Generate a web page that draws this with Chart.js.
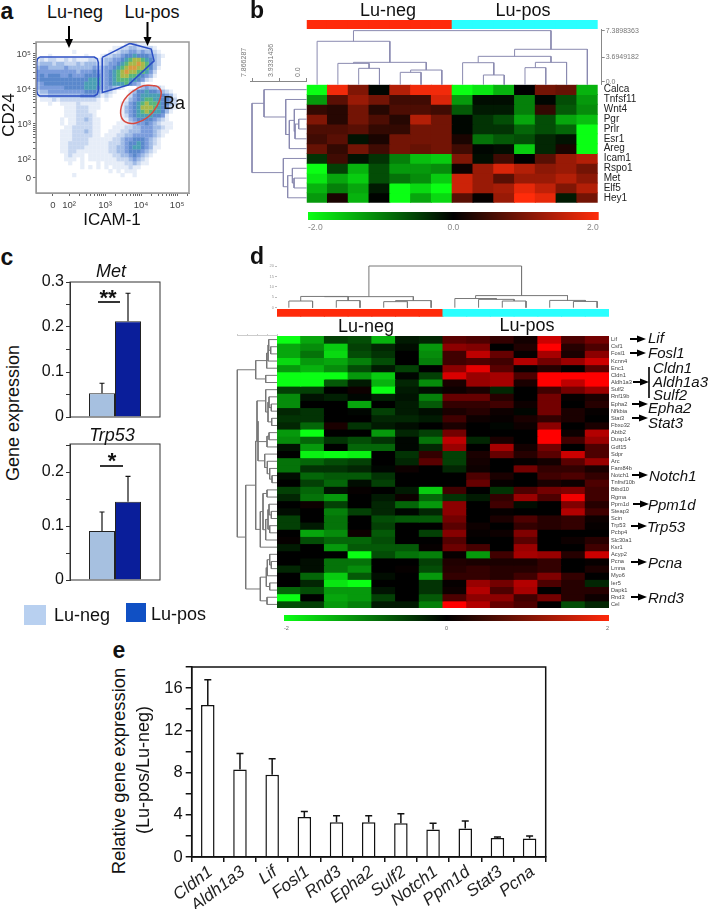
<!DOCTYPE html>
<html>
<head>
<meta charset="utf-8">
<title>Lu-neg / Lu-pos figure</title>
<script src="https://cdn.jsdelivr.net/npm/chart.js@4"></script>
<style>
    html, body { margin: 0; padding: 0; background: #fff; }
    #page { position: relative; width: 709px; height: 909px; overflow: hidden; font-family: "Liberation Sans", sans-serif; color: #111; }
    #page canvas { position: absolute; }
    #page svg { position: absolute; left: 0; top: 0; }
    .txt { position: absolute; white-space: nowrap; line-height: 1; }
    .swatch { position: absolute; }
</style>
</head>
<body>
<div id="page"></div>
<script>
// panel a: estimated density per 4px cell, 0 empty .. 9 densest. Left and right part of each row.
const flowGridLeft = [
    '0000000000000000', '0000000000000000', '0000000001000000', '0001000000001000',
    '1212211212111221', '2333233222323332', '3443333433333343', '4444444444344454',
    '4545554454445555', '4555555555555666', '3455555555556666', '3444444555556665',
    '2334444444445554', '1223333333344443', '0111212222222221', '0001001111211111',
    '0000000111222111', '0000000111222110', '0000000111222210', '0000001011223211',
    '0000001011222211', '0000000112222211', '0000001112223211', '0000001112222211',
    '0000001112222111', '0000001122222111', '0000001122221111', '0000001122111111',
    '0000000121110111', '0000000111010111', '0000000010010001', '0000000000010101',
    '0000000000000000', '0000000001000000', '0000000000000000', '0000000000000000',
    '0000000000000000', '0000000000000000'
];
const flowGridRight = [
    '0000001121110000000000', '0001122332222100000000', '0011233443433210000000', '1223345565554321000000',
    '2334456788765320000000', '2344567889875320000000', '3445678998875310000000', '3456789887764200000000',
    '3456788776543100000000', '3456777665421000000000', '3456667543100000000000', '3443210002343321000000',
    '2321000135565543210000', '1210000245666665431000', '0100001345677665542000', '0000012456787765532000',
    '0000013456888765421000', '0000013456787665310000', '0000012456666554100000', '0000011345555432100000',
    '0000111234454321110000', '0001112233444332110000', '0011122333444321100000', '0111223344444321000000',
    '1112234455543210000000', '1122234556543210000000', '1122334566543110000000', '1122334555432100000000',
    '1112233454321000000000', '1111222343210000000000', '0111112232110000000000', '0101111211000000000000',
    '0010101110000000000000', '0000010010000000000000', '0000000000000000000000', '0000000000000000000000',
    '0000000000000000000000', '0000000000000000000000'
];
const flowColors = ['', '#e6edf8', '#c6d6f0', '#a0bbe6', '#7a9cdc', '#5a88cc', '#4a9fb4', '#58b67c', '#a8b84a', '#d89a40'];
const flowXRange = [1.08, 5.33];
const flowYRange = [1.03, 5.34];
const flowXMajor = [1.55, 2, 3, 4, 5];
const flowXLabels = ['0', '10²', '10³', '10⁴', '10⁵'];
const flowYMajor = [1.46, 2, 3, 4, 5];
const flowYLabels = ['0', '10²', '10³', '10⁴', '10⁵'];
const logMinors = [0.3, 0.48, 0.6, 0.7, 0.78, 0.85, 0.9, 0.95];
const gateNeg = [[1.18,4.91],[2.70,4.91],[2.78,4.86],[2.81,4.76],[2.81,3.95],[2.78,3.85],[2.70,3.80],[1.18,3.80],[1.12,3.85],[1.10,3.95],[1.10,4.76],[1.12,4.86],[1.18,4.91]];
const gatePos = [[2.92,4.9],[3.69,5.3],[4.28,5.14],[4.36,4.8],[3.64,4.11],[2.92,3.9],[2.92,4.9]];
const gateBa = [[4.31,4.10],[4.47,4.06],[4.56,3.89],[4.44,3.51],[4.19,3.2],[3.86,3.03],[3.56,3.06],[3.43,3.31],[3.53,3.69],[3.78,3.94],[4.06,4.09],[4.31,4.10]];

// panel b
const geneB = ['Calca', 'Tnfsf11', 'Wnt4', 'Pgr', 'Prlr', 'Esr1', 'Areg', 'Icam1', 'Rspo1', 'Met', 'Elf5', 'Hey1'];
const heatB = [
    [-2, 1.9, 1, -0.05, 1.4, 1.9, 1.9, -2, -1.8, -1.4, 0, 0.9, 0.8, -1.4],
    [-1.2, 0.7, 1.2, 0.9, 0.5, 0.5, 1.7, -1.2, -0.1, -0.1, -1, -0.05, -0.6, -1.2],
    [0.4, 0.3, 0.9, 0.3, 0.6, 0.6, 0.5, -0.7, -0.2, -0.2, -1, 0.4, -0.7, -1.1],
    [1, 0.3, 0.9, 0.6, 0.3, 1.4, 0.9, -0.05, -0.4, -0.6, -1.3, -0.6, -1.3, -1.5],
    [0.6, 0.6, 0.7, 0.4, 0.4, 0.9, 0.9, -0.05, -0.4, -0.4, -0.8, -0.6, -0.8, -2],
    [0.5, 0.7, -0.15, 0.2, 0.9, 0.9, 0.9, 0.2, -0.9, -0.7, -0.6, -0.3, -0.15, -2],
    [0.8, 0.4, 0.9, 0.5, 0.9, 0.8, 0.9, 0.5, -0.05, -0.1, -1.6, -0.3, 0.2, -2],
    [-0.4, 0.5, -0.15, -0.4, -1, -1.5, -1.6, 1, -0.1, 0.5, 0, 0.7, 1.2, 1.4],
    [-2, -0.5, -1.4, -0.6, -1.2, -1.2, -1.1, 0.1, 1.2, 1.7, 1.4, 1.1, 1.2, 0.9],
    [-1.8, -1.3, -1.6, -0.6, -0.9, -1.1, -1.6, 1.6, 1.2, 0.7, 1.2, 1.2, 1.4, 1.1],
    [-1.4, -1, -1.3, -0.2, -2, -1.7, -2, 1.6, 1.2, 1.3, 1.8, 1.5, 1, 1.4],
    [-1.2, 0.2, -1.4, -0.02, -2, -1.3, -1.7, 0.7, 0.05, 1.2, 2, 1.8, -0.2, 0.9]
];
// trees are [height, left, right], a bare number is a leaf position
const treeBTop = [7.3, [5.86, 0, [3.02, [2.88, 1, [2.21, 2, 3]], [1.98, [1.67, 4, 5], 6]]], [4.78, [3.83, [2.97, 7, [1.31, 8, 9]], [3.02, [2.3, 10, 11], 12]], 13]];
const treeBLeft = [7.87, [6.14, 0, [3.02, 1, [2.5, [1.78, 2, [1.68, [1.15, 3, 4], 5]], 6]]], [3.36, 7, [2.74, [2.06, 8, [1.82, 9, 10]], 11]]];
const stripGroups = [[0, 0, 0, 0, 0, 0, 0, 1, 1, 1, 1, 1, 1, 1]];
const scaleBTicks = ['7.3898363', '3.6949182', '0.0'];
const scaleBLeftTicks = ['7.866287', '3.9331436', '0.0'];

// panel c
const groups = ['Lu-neg', 'Lu-pos'];
const metMeans = [0.053, 0.213];
const metHighs = [0.075, 0.275];
const metTicks = [0, 0.05, 0.1, 0.15, 0.2, 0.25, 0.3];
const trpMeans = [0.091, 0.145];
const trpHighs = [0.126, 0.192];
const trpTicks = [0, 0.05, 0.1, 0.15, 0.2, 0.25];

// panel d
const geneD = ['Lif', 'Csf1', 'Fosl1', 'Kcnn4', 'Enc1', 'Cldn1', 'Aldh1a3', 'Sulf2', 'Rnf19b', 'Epha2', 'Nfkbia', 'Stat3', 'Fbxo32', 'Abtb2', 'Dusp14', 'Gdf15', 'Sdpr', 'Arc', 'Fam84b', 'Notch1', 'Tnfrsf10b', 'Btbd10', 'Rgma', 'Ppm1d', 'Steap3', 'Scin', 'Trp53', 'Pcbp4', 'Slc30a1', 'Ksr1', 'Acyp2', 'Pcna', 'Lmna', 'Myo6', 'Ier5', 'Dapk1', 'Rnd3', 'Cel'];
const heatD = [
    [-2, -1.3, -0.5, -0.6, -1.4, -0.2, -0.3, 0.7, 0.6, 0.4, 0.15, 1.6, 0.6, 0.9],
    [-1.3, -1.1, -1.6, -0.5, -0.3, -0.1, -1.2, 1.1, 1, 0, 0.25, 2, 0.3, 0.6],
    [-1.3, -0.9, -1.7, -0.6, -0.4, 0, -1.1, 0.5, 1.5, 0.8, 0.05, 1.3, 0.2, 1.1],
    [-1.7, -1.2, -1.3, -1, -0.6, 0, -1, 0.5, 0.6, 0.5, 1.4, 0.9, 1.2, 1.6],
    [-1.2, -1.4, -1.1, -0.6, -0.2, -0.5, 0, 1.1, 1.8, 0.7, 0.05, 0.3, 0, 0.7],
    [-2, -2, -2, -1.2, -1.6, -0.05, -0.5, 1.7, 1.2, 1.3, 0.6, 2, 2, 2],
    [-2, -2, -0.7, -0.2, -1.4, -0.3, -1.1, 0.2, 1.2, 1.3, 0.2, 2, 1.5, 2],
    [-0.5, -0.5, 0, 0.1, -2, -0.2, -0.1, 0.1, 0.2, -0.3, 0, 0.5, 0.9, 1.2],
    [-1.1, -0.15, -0.25, -0.05, -0.25, -0.15, -1, 0.8, 0.8, 0.3, 0, 0.9, 0.05, 0.2],
    [-1.1, 0, 0, -1.3, 0, -0.2, -0.7, 0.4, 0.4, 0.5, 0.1, 0.9, 0, 0.3],
    [-0.3, -0.4, 0, -0.05, -0.5, -0.2, -0.1, 0.2, 0.3, 0.1, -0.05, 0.9, 0.2, 0.05],
    [-0.4, -0.4, 0, 0, -0.3, -0.3, -0.2, 0.5, 0.1, 0.05, 0.2, 0.4, 0.2, 0],
    [-0.3, -0.8, 0.2, -0.4, -0.2, -0.1, 0, 0.2, 0, -0.05, 0.1, 1.1, 0, 0.2],
    [-1.2, -2, 0, 0, -1.2, -0.3, -0.5, 0.9, 0, 0, 0, 2, 0.1, 1.4],
    [-1.1, -0.8, -0.4, -0.6, -0.4, -0.05, -0.9, 1.5, -0.3, 0.2, 0, 2, 0.5, 1.2],
    [-0.15, -1.2, 0, -0.8, -0.8, -0.05, -0.3, 1.2, 0, 1.3, 0.15, 0.9, 0, 0.6],
    [0, -1.9, -2, -1.9, 0, -0.4, 0.4, -0.5, 0.2, 0.8, 0.3, 0.7, 1.6, 0.6],
    [-0.9, -0.8, -0.6, -0.5, 0, -0.3, 0.7, -0.5, 0.15, 0, 0.05, 0.15, 0.7, 1.2],
    [-0.9, -0.4, -0.4, -0.3, -0.05, 0.1, 0, -0.3, 0.1, 0, 0.9, 0.4, 0.4, 0.2],
    [-0.1, -0.8, -0.7, -0.7, -0.4, 0, 0, 0, 0.6, 0.2, 0, 0.5, 0.6, 0.4],
    [0, -0.5, -0.8, -0.1, -0.5, 0, 0, 0, 0.8, 0.05, 0, 0.2, 0.1, 0.6],
    [-0.5, -0.8, -0.15, 0.05, 0, -0.2, -1.6, 0.5, 0, -0.4, 0.6, 0.9, 1, 0.5],
    [-0.3, -0.9, -1.2, 0, -0.2, 0.1, -0.8, -0.4, -0.2, 0.4, 1.2, 0.6, 1.9, 0.5],
    [0, 0.1, -0.5, 0, -0.3, -0.8, -1.2, 1.1, 0, 0.5, -0.1, 0, 1, 0.3],
    [-0.1, 0, -1, -0.5, -0.3, -0.05, -0.3, 1.1, 0, 0.05, 0, 0, 1.4, 0.5],
    [-0.5, 0, -0.9, 0, -0.6, -0.7, -0.7, 0.9, 0, 0.2, 0.6, 0.3, 0.4, 0.1],
    [-0.5, -0.2, -0.9, 0, -0.5, 0, 0, 0.7, 0.1, 0, 0.4, 0.3, 0.4, 0.05],
    [0, -1.3, -1.1, 0.1, -0.7, 0, -0.5, 1.05, 0.05, 0.1, 1, 0, 0, 0],
    [0.05, -0.6, -0.8, -0.8, -0.6, 0, 0, 0.65, 0, 0, 0.7, 0, 0.1, 0.3],
    [-0.2, 0, -1.2, -0.7, -0.7, -0.7, 0.05, 0.85, 0.55, 0, 1.2, 0, 0, 0.5],
    [0, 0, 0, -2, -0.6, -0.9, -1, 0.05, -1.2, 0.5, 1.3, 1.2, 0.3, 1.6],
    [0, -0.1, -0.9, -0.9, 0, 0, -0.5, 0.25, 0.2, 0.2, 0.2, 0.4, 0, 0.05],
    [-0.3, -0.1, -0.9, -1.1, 0, 0.05, -0.6, 0.3, 0.4, 0.3, 0.3, 0.4, 0, 0.2],
    [0, -0.8, -1.6, -0.7, -0.1, 0, -1.2, 0.4, 0.4, 0.3, 0.5, 1, 0.4, 0],
    [0, -0.3, -1.8, -2, 0, 0, -0.4, 0.05, 1.2, 0.9, 1.4, 0.6, 0.3, -0.3],
    [-0.8, -0.6, -1.2, -1.2, -0.15, 0, -0.4, 0.1, 1.4, 0.6, 1.3, 0, 0.3, 0.3],
    [-2, 0, -1.3, -1.2, -0.5, 0, -0.7, 0.6, 1.1, 1.1, 0.5, 0.9, 0.3, 0.1],
    [-0.6, -0.5, -1.2, -1, -0.2, -0.2, -1, 2, 1.4, 0.8, 0.6, 0, -0.6, -0.3]
];
const treeDTop = [20, [5.3, [5.4, [3.2, 0, 1], [3.4, 2, 3]], [3.4, [2.9, 4, 5], 6]], [5.8, [4.4, 7, [4, 8, [3.2, 9, 10]]], [3.5, 11, [3, 12, 13]]]];
const treeDLeft = [39.7,
    [21.3, [10.3, [9, [8.3, 0, [6.3, 1, 2]], 3], 4], [11.3, 5, 6]],
    [31.3,
        [21.3,
            [19,
                [20, [11.3, 7, [9, [8, 8, [5.7, 9, 10]], [5.3, 11, 12]]], [10, [8, 13, 14], 15]],
                [12.3, 16, [9.7, 17, [7.3, 18, [5, 19, 20]]]]],
            [16.7, [14, [10, 21, 22], [11.3, [9, [8, 23, [5.7, 24, 25]], [7.3, 26, 27]], 28]], 29]],
        [16.7, [10.7, [9.7, [7.3, 30, [5.7, 31, 32]], 33], [7.3, 34, 35]], [10, 36, 37]]]
];

// panel e
const genesE = ['Cldn1', 'Aldh1a3', 'Lif', 'Fosl1', 'Rnd3', 'Epha2', 'Sulf2', 'Notch1', 'Ppm1d', 'Stat3', 'Pcna'];
const foldMeans = [14.4, 8.3, 7.8, 3.8, 3.3, 3.3, 3.2, 2.6, 2.7, 1.8, 1.75];
const foldHighs = [16.8, 9.8, 9.3, 4.3, 3.9, 3.9, 4.1, 3.2, 3.4, 1.9, 2.0];
const foldTicks = [0, 2, 4, 6, 8, 10, 12, 14, 16, 18];

// free text on the page
const texts = [
    { t: 'a', x: 7, y: 11, s: 23, b: 1 }, { t: 'b', x: 257, y: 10, s: 23, b: 1 },
    { t: 'c', x: 7, y: 257, s: 23, b: 1 }, { t: 'd', x: 257, y: 256, s: 23, b: 1 }, { t: 'e', x: 119, y: 650, s: 23, b: 1 },
    { t: 'Lu-neg', x: 75, y: 12, s: 18 }, { t: 'Lu-pos', x: 152, y: 12, s: 18 },
    { t: 'Ba', x: 174, y: 103, s: 18 },
    { t: 'ICAM-1', x: 112, y: 219, s: 17 }, { t: 'CD24', x: 8, y: 115, s: 17, r: -90 },
    { t: 'Lu-neg', x: 388, y: 10, s: 18 }, { t: 'Lu-pos', x: 523, y: 10, s: 18 },
    { t: 'Met', x: 111, y: 271, s: 18, i: 1 }, { t: 'Trp53', x: 112, y: 435, s: 18, i: 1 },
    { t: '**', x: 108, y: 298, s: 22, b: 1 }, { t: '*', x: 112, y: 461, s: 22, b: 1 },
    { t: 'Gene expression', x: 13, y: 413, s: 18, r: -90 },
    { t: 'Lu-neg', x: 54, y: 615, s: 18, a: 'l' }, { t: 'Lu-pos', x: 151, y: 614, s: 18, a: 'l' },
    { t: 'Lu-neg', x: 366, y: 326, s: 18 }, { t: 'Lu-pos', x: 527, y: 325, s: 18 },
    { t: 'Lif', x: 648, y: 337, s: 15, i: 1, a: 'l' }, { t: 'Fosl1', x: 648, y: 352, s: 15, i: 1, a: 'l' },
    { t: 'Cldn1', x: 653, y: 367, s: 15, i: 1, a: 'l' }, { t: 'Aldh1a3', x: 653, y: 381, s: 15, i: 1, a: 'l' },
    { t: 'Sulf2', x: 653, y: 394, s: 15, i: 1, a: 'l' }, { t: 'Epha2', x: 648, y: 407, s: 15, i: 1, a: 'l' },
    { t: 'Stat3', x: 648, y: 422, s: 15, i: 1, a: 'l' }, { t: 'Notch1', x: 649, y: 475, s: 15, i: 1, a: 'l' },
    { t: 'Ppm1d', x: 648, y: 504, s: 15, i: 1, a: 'l' }, { t: 'Trp53', x: 647, y: 526, s: 15, i: 1, a: 'l' },
    { t: 'Pcna', x: 648, y: 562, s: 15, i: 1, a: 'l' }, { t: 'Rnd3', x: 648, y: 597, s: 15, i: 1, a: 'l' },
    { t: 'Relative gene expression', x: 119, y: 771, s: 18.4, r: -90 },
    { t: '(Lu-pos/Lu-neg)', x: 143, y: 770, s: 18, r: -90 }
];
const arrows = [
    [69, 26, 69, 48], [147.5, 22, 147.5, 46],
    [630, 339, 646, 339], [630, 353, 646, 353], [633, 382, 649, 382], [632, 404, 648, 404], [632, 418, 648, 418],
    [632, 475, 648, 475], [633, 504, 649, 504], [631, 526, 647, 526], [631, 562, 647, 562], [631, 597, 647, 597]
];
const rules = [[98, 302, 120, 302], [100, 466, 123, 466], [649, 367, 649, 398]];
const swatches = [
    { x: 24, y: 605, w: 22, h: 20, c: '#b8d0f0' },
    { x: 126, y: 603, w: 20, h: 19, c: '#1050c4' }
];

document.addEventListener('DOMContentLoaded', () => {
    const page = document.getElementById('page');
    Chart.defaults.animation = false;
    Chart.defaults.responsive = false;
    Chart.defaults.font.family = '"Liberation Sans", sans-serif';
    Chart.defaults.plugins.legend.display = false;
    Chart.defaults.plugins.tooltip.enabled = false;

    // outer is the canvas box, area is where the plot region has to land
    function makeChart(outer, area, config) {
        const canvas = document.createElement('canvas');
        canvas.width = outer.r - outer.l;
        canvas.height = outer.b - outer.t;
        canvas.style.left = outer.l + 'px';
        canvas.style.top = outer.t + 'px';
        page.appendChild(canvas);
        const gap = { left: area.l - outer.l, right: outer.r - area.r, top: area.t - outer.t, bottom: outer.b - area.b };
        const padding = { ...gap };
        Object.values(config.options.scales).forEach(s => {
            if (s.display === false) return;
            const side = s.position;
            padding[side] = 0;
            s.afterFit = axis => {
                if (side === 'left' || side === 'right') axis.width = gap[side];
                else axis.height = gap[side];
                // no room kept for half a tick label, the box is fixed
                axis.paddingTop = axis.paddingBottom = axis.paddingLeft = axis.paddingRight = 0;
            };
        });
        config.options.layout = { padding, autoPadding: false };
        return new Chart(canvas, config);
    }

    function fixedTicks(values) {
        return axis => { axis.ticks = values.map(value => ({ value })); };
    }

    function boxPlugin(color, width) {
        return {
            id: 'box',
            afterDatasetsDraw(chart) {
                const { ctx, chartArea: a } = chart;
                ctx.save();
                ctx.strokeStyle = color;
                ctx.lineWidth = width;
                ctx.strokeRect(a.left, a.top, a.right - a.left, a.bottom - a.top);
                ctx.restore();
            }
        };
    }

    // stem and top cap, read from dataset.highs
    function errorBars(capHalf, lineWidth) {
        return {
            id: 'errorBars',
            afterDatasetsDraw(chart) {
                const { ctx, scales } = chart;
                ctx.save();
                ctx.strokeStyle = '#111';
                ctx.lineWidth = lineWidth;
                chart.data.datasets.forEach((ds, i) => {
                    chart.getDatasetMeta(i).data.forEach((bar, j) => {
                        const top = scales.y.getPixelForValue(ds.highs[j]);
                        const base = scales.y.getPixelForValue(ds.data[j]);
                        ctx.beginPath();
                        ctx.moveTo(bar.x, base);
                        ctx.lineTo(bar.x, top);
                        ctx.moveTo(bar.x - capHalf, top);
                        ctx.lineTo(bar.x + capHalf, top);
                        ctx.stroke();
                    });
                });
                ctx.restore();
            }
        };
    }

    function heatColor(top) {
        return v => {
            const k = Math.min(Math.abs(v) / 2, 1);
            if (v < 0) return `rgb(${Math.round(10 * k)},${Math.round(255 * k)},${Math.round(20 * k)})`;
            return `rgb(${Math.round(top[0] * k)},${Math.round(top[1] * k)},${Math.round(top[2] * k)})`;
        };
    }

    // one stacked dataset per row, every cell is one unit tall
    function heatChart(outer, area, matrix, colorOf, rowNames, labelFont) {
        const columns = matrix[0].map((_, i) => i);
        const scales = {
            x: { type: 'category', labels: columns, stacked: true, display: false },
            y: {
                type: 'linear', stacked: true, reverse: true, min: 0, max: matrix.length, position: 'right',
                display: !!rowNames, grid: { display: false, drawTicks: false }, border: { display: false },
                afterBuildTicks: fixedTicks(matrix.map((_, i) => i + 0.5)),
                ticks: rowNames ? { autoSkip: false, padding: labelFont.pad, font: labelFont.font, color: labelFont.color, callback: (v, i) => rowNames[i] } : {}
            }
        };
        const chart = makeChart(outer, area, {
            type: 'bar',
            data: {
                labels: columns,
                datasets: matrix.map(row => ({
                    data: row.map(() => 1), backgroundColor: row.map(colorOf), borderWidth: 0,
                    inflateAmount: 0.5, barPercentage: 1, categoryPercentage: 1
                }))
            },
            options: { scales }
        });
        chart.canvas.style.filter = 'blur(0.5px)';
        return chart;
    }

    function treeDatasets(tree, color, horizontal) {
        const out = [];
        const walk = node => {
            if (typeof node === 'number') return { pos: node, h: 0 };
            const a = walk(node[1]);
            const b = walk(node[2]);
            const h = node[0];
            const pts = [[a.pos, a.h], [a.pos, h], [b.pos, h], [b.pos, b.h]];
            out.push({
                data: pts.map(p => horizontal ? { x: p[1], y: p[0] } : { x: p[0], y: p[1] }),
                showLine: true, pointRadius: 0, borderColor: color, borderWidth: 1, clip: false
            });
            return { pos: (a.pos + b.pos) / 2, h };
        };
        walk(tree);
        return out;
    }

    function scaleBar(outer, area, top, labels, tickFont, tickColor) {
        const low = heatColor(top)(-2);
        const high = heatColor(top)(2);
        makeChart(outer, area, {
            type: 'bar',
            data: {
                labels: ['scale'],
                datasets: [{
                    data: [[-2, 2]], barPercentage: 1, categoryPercentage: 1,
                    backgroundColor: ctx => {
                        const a = ctx.chart.chartArea;
                        if (!a) return low;
                        const g = ctx.chart.ctx.createLinearGradient(a.left, 0, a.right, 0);
                        g.addColorStop(0, low);
                        g.addColorStop(0.5, '#000');
                        g.addColorStop(1, high);
                        return g;
                    }
                }]
            },
            options: {
                indexAxis: 'y',
                scales: {
                    y: { type: 'category', display: false },
                    x: {
                        type: 'linear', min: -2, max: 2, position: 'bottom',
                        grid: { display: false, drawTicks: false }, border: { display: false },
                        afterBuildTicks: fixedTicks([-2, 0, 2]),
                        ticks: { align: 'inner', padding: tickFont.size > 6 ? 3 : 4, font: tickFont, color: tickColor, maxRotation: 0, callback: (v, i) => labels[i] }
                    }
                }
            }
        });
    }

    const groupColor = g => g === 0 ? '#ff2a0a' : '#2affff';

    // ---- a
    const flowGrid = flowGridLeft.map((row, r) => row + flowGridRight[r]);
    const cellW = (flowXRange[1] - flowXRange[0]) / flowGrid[0].length;
    const cellH = (flowYRange[1] - flowYRange[0]) / flowGrid.length;
    const levelSets = flowColors.map(() => []);
    flowGrid.forEach((row, r) => {
        [...row].forEach((ch, c) => {
            levelSets[+ch].push({ x: flowXRange[0] + (c + 0.5) * cellW, y: flowYRange[1] - (r + 0.5) * cellH });
        });
    });
    // the first dataset ends up on top, so gates go first and pale cells last
    const flowDatasets = [];
    [[gateNeg, '#2c4fc4', 0], [gatePos, '#2c4fc4', 0], [gateBa, '#d8483e', 0.4]].forEach(g => {
        flowDatasets.push({
            data: g[0].map(p => ({ x: p[0], y: p[1] })), showLine: true, pointRadius: 0,
            borderColor: g[1], borderWidth: 1.5, tension: g[2], clip: false
        });
    });
    for (let level = flowColors.length - 1; level > 0; level--) {
        flowDatasets.push({
            data: levelSets[level], pointStyle: 'rect', pointRadius: 3, backgroundColor: flowColors[level], borderWidth: 0
        });
    }
    const flowX = flowXMajor.slice();
    [2, 3, 4, 5].forEach(d => logMinors.forEach(m => { if (d + m < flowXRange[1]) flowX.push(d + m); }));
    const flowY = flowYMajor.slice();
    [2, 3, 4, 5].forEach(d => logMinors.forEach(m => { if (d + m < flowYRange[1]) flowY.push(d + m); }));
    const flowTick = { font: { size: 9.5 }, color: '#444', autoSkip: false, maxRotation: 0 };
    const flowChart = makeChart({ l: 0, t: 34, r: 195, b: 214 }, { l: 36, t: 42, r: 189, b: 193 }, {
        type: 'scatter',
        data: { datasets: flowDatasets },
        options: {
            scales: {
                x: {
                    type: 'linear', position: 'bottom', min: flowXRange[0], max: flowXRange[1],
                    grid: { drawOnChartArea: false, tickLength: 3, color: '#666' }, border: { color: '#999' },
                    afterBuildTicks: fixedTicks(flowX),
                    ticks: { ...flowTick, padding: 4, callback: (v, i) => i < flowXLabels.length ? flowXLabels[i] : '' }
                },
                y: {
                    type: 'linear', position: 'left', min: flowYRange[0], max: flowYRange[1],
                    grid: { drawOnChartArea: false, tickLength: 3, color: '#666' }, border: { color: '#999' },
                    afterBuildTicks: fixedTicks(flowY),
                    ticks: { ...flowTick, padding: 2, callback: (v, i) => i < flowYLabels.length ? flowYLabels[i] : '' }
                }
            }
        },
        plugins: [boxPlugin('#999', 1.5)]
    });
    flowChart.canvas.style.filter = 'blur(0.5px)';

    // ---- b
    const redB = [255, 44, 10];
    heatChart({ l: 300, t: 20, r: 604, b: 29 }, { l: 306.7, t: 20, r: 597.7, b: 29 }, stripGroups, groupColor);
    heatChart({ l: 300, t: 80, r: 660, b: 208 }, { l: 306.7, t: 84.7, r: 597.7, b: 202.7 }, heatB, heatColor(redB), geneB,
        { font: { size: 10 }, color: '#222', pad: 6 });
    makeChart({ l: 300, t: 24, r: 660, b: 90 }, { l: 306.7, t: 29, r: 601.7, b: 84.7 }, {
        type: 'scatter',
        data: { datasets: treeDatasets(treeBTop, '#8a8ab0', false) },
        options: {
            scales: {
                x: { type: 'linear', min: -0.5, max: 13.69, display: false },
                y: {
                    type: 'linear', position: 'right', min: 0, max: 7.52,
                    grid: { drawOnChartArea: false, tickLength: 3, color: '#888' }, border: { color: '#888' },
                    afterBuildTicks: fixedTicks([7.3, 3.69, 0.4]),
                    ticks: { font: { size: 7 }, color: '#777', padding: 1, callback: (v, i) => scaleBTicks[i] }
                }
            }
        }
    });
    makeChart({ l: 238, t: 38, r: 310, b: 208 }, { l: 250, t: 81, r: 306.7, b: 202.7 }, {
        type: 'scatter',
        data: { datasets: treeDatasets(treeBLeft, '#8a8ab0', true) },
        options: {
            scales: {
                x: {
                    type: 'linear', position: 'top', reverse: true, min: 0, max: 8.16,
                    grid: { drawOnChartArea: false, tickLength: 3, color: '#888' }, border: { color: '#888' },
                    afterBuildTicks: fixedTicks([7.87, 3.93, 0]),
                    ticks: { font: { size: 7 }, color: '#777', padding: 1, minRotation: 90, maxRotation: 90, callback: (v, i) => scaleBLeftTicks[i] }
                },
                y: { type: 'linear', reverse: true, min: -0.88, max: 11.5, display: false }
            }
        }
    });
    scaleBar({ l: 295, t: 208, r: 612, b: 234 }, { l: 308, t: 212, r: 598.7, b: 220 }, redB, ['-2.0', '0.0', '2.0'], { size: 8.5 }, '#888');

    // ---- c
    function geneBars(outer, area, means, highs, max, ticks) {
        makeChart(outer, area, {
            type: 'bar',
            data: {
                labels: ['gene'],
                datasets: groups.map((g, i) => ({
                    label: g, data: [means[i]], highs: [highs[i]],
                    backgroundColor: i === 0 ? '#a6c0e0' : '#0a1e9a', borderColor: '#222', borderWidth: 1,
                    barPercentage: 1, categoryPercentage: 52 / 90
                }))
            },
            options: {
                scales: {
                    x: { type: 'category', display: false },
                    y: {
                        type: 'linear', position: 'left', min: 0, max,
                        grid: { drawOnChartArea: false, tickLength: 4, color: '#333' }, border: { color: '#333' },
                        afterBuildTicks: fixedTicks(ticks),
                        ticks: {
                            font: { size: 16 }, color: '#111', padding: 2, autoSkip: false,
                            callback: v => {
                                const n = Math.round(v * 100);
                                if (n % 10 !== 0) return '';
                                return n === 0 ? '0' : (n / 100).toFixed(1);
                            }
                        }
                    }
                }
            },
            plugins: [errorBars(2.5, 1.2), boxPlugin('#333', 1)]
        });
    }
    geneBars({ l: 25, t: 274, r: 166, b: 424 }, { l: 70, t: 282, r: 160, b: 417 }, metMeans, metHighs, 0.3, metTicks);
    geneBars({ l: 25, t: 438, r: 166, b: 586 }, { l: 70, t: 444, r: 160, b: 580 }, trpMeans, trpHighs, 0.252, trpTicks);

    // ---- d
    heatChart({ l: 270, t: 309, r: 615, b: 317 }, { l: 277, t: 309, r: 609, b: 316.7 }, stripGroups, groupColor);
    heatChart({ l: 270, t: 332, r: 650, b: 612 }, { l: 277, t: 336, r: 609, b: 608 }, heatD, heatColor([255, 0, 0]), geneD,
        { font: { size: 5.7 }, color: '#444', pad: 2 });
    makeChart({ l: 262, t: 262, r: 615, b: 310 }, { l: 277, t: 266, r: 609, b: 307.7 }, {
        type: 'scatter',
        data: { datasets: treeDatasets(treeDTop, '#777', false) },
        options: {
            scales: {
                x: { type: 'linear', min: -0.5, max: 13.5, display: false },
                y: {
                    type: 'linear', position: 'left', min: 0, max: 20,
                    grid: { drawOnChartArea: false, tickLength: 2, color: '#bbb' }, border: { display: false },
                    afterBuildTicks: fixedTicks([0, 5, 10, 15, 20]),
                    ticks: { font: { size: 4 }, color: '#999', padding: 1 }
                }
            }
        }
    });
    makeChart({ l: 232, t: 328, r: 280, b: 612 }, { l: 237, t: 335, r: 277, b: 608 }, {
        type: 'scatter',
        data: { datasets: treeDatasets(treeDLeft, '#777', true) },
        options: {
            scales: {
                x: {
                    type: 'linear', position: 'top', reverse: true, min: 0, max: 40,
                    grid: { drawOnChartArea: false, tickLength: 1, color: '#ccc' }, border: { color: '#ccc' },
                    ticks: { display: false, stepSize: 10 }
                },
                y: { type: 'linear', reverse: true, min: -0.64, max: 37.5, display: false }
            }
        }
    });
    scaleBar({ l: 278, t: 612, r: 616, b: 634 }, { l: 284, t: 615, r: 609, b: 621 }, [255, 40, 10], ['-2', '0', '2'], { size: 5.5 }, '#666');

    // ---- e
    makeChart({ l: 150, t: 660, r: 552, b: 909 }, { l: 191.7, t: 667, r: 545.7, b: 857 }, {
        type: 'bar',
        data: {
            labels: genesE,
            datasets: [{
                data: foldMeans, highs: foldHighs, backgroundColor: '#fff', borderColor: '#111', borderWidth: 1.5,
                barPercentage: 0.42, categoryPercentage: 1
            }]
        },
        options: {
            scales: {
                x: {
                    type: 'category', position: 'bottom',
                    grid: { drawOnChartArea: false, offset: true, tickLength: 5, color: '#111', lineWidth: 1.5 }, border: { color: '#111', width: 1.5 },
                    ticks: { font: { size: 17, style: 'italic' }, color: '#222', minRotation: 37, maxRotation: 37, padding: 0, labelOffset: 3, autoSkip: false }
                },
                y: {
                    type: 'linear', position: 'left', min: 0, max: 18,
                    grid: { drawOnChartArea: false, tickLength: 6, color: '#111', lineWidth: 1.5 }, border: { color: '#111', width: 1.5 },
                    afterBuildTicks: fixedTicks(foldTicks),
                    ticks: { font: { size: 16.5 }, color: '#111', padding: 3, autoSkip: false, callback: v => v % 4 === 0 ? v : '' }
                }
            }
        },
        plugins: [errorBars(3.5, 1.5), boxPlugin('#111', 1.5)]
    });

    // ---- page text, arrows and rules
    texts.forEach(o => {
        const el = document.createElement('span');
        el.className = 'txt';
        el.textContent = o.t;
        el.style.left = o.x + 'px';
        el.style.top = o.y + 'px';
        el.style.fontSize = o.s + 'px';
        if (o.b) el.style.fontWeight = 'bold';
        if (o.i) el.style.fontStyle = 'italic';
        el.style.transform = (o.a === 'l' ? 'translate(0,-50%)' : 'translate(-50%,-50%)') + (o.r ? ` rotate(${o.r}deg)` : '');
        page.appendChild(el);
    });
    swatches.forEach(o => {
        const el = document.createElement('div');
        el.className = 'swatch';
        el.style.cssText = `left:${o.x}px;top:${o.y}px;width:${o.w}px;height:${o.h}px;background:${o.c}`;
        page.appendChild(el);
    });
    let svg = '<svg width="709" height="909" xmlns="http://www.w3.org/2000/svg">';
    rules.forEach(r => {
        svg += `<line x1="${r[0]}" y1="${r[1]}" x2="${r[2]}" y2="${r[3]}" stroke="#000" stroke-width="1.6"/>`;
    });
    arrows.forEach(a => {
        const vertical = a[0] === a[2];
        const hx = vertical ? a[2] : a[2] - 9;
        const hy = vertical ? a[3] - 9 : a[3];
        svg += `<line x1="${a[0]}" y1="${a[1]}" x2="${hx}" y2="${hy}" stroke="#000" stroke-width="2"/>`;
        svg += vertical
            ? `<polygon points="${a[2]},${a[3]} ${a[2] - 4},${hy} ${a[2] + 4},${hy}" fill="#000"/>`
            : `<polygon points="${a[2]},${a[3]} ${hx},${a[3] - 3.5} ${hx},${a[3] + 3.5}" fill="#000"/>`;
    });
    page.insertAdjacentHTML('beforeend', svg + '</svg>');
});
</script>
</body>
</html>
